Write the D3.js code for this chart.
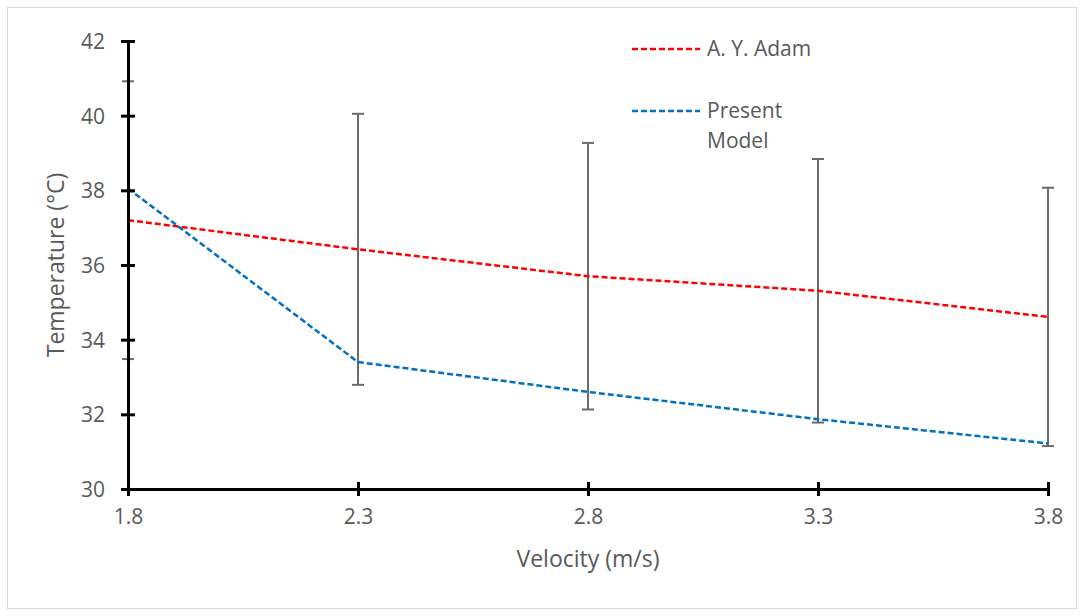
<!DOCTYPE html>
<html>
<head>
<meta charset="utf-8">
<script src="https://cdn.jsdelivr.net/npm/d3@7"></script>
<style>
  body { margin: 0; background: #fff; }
  text { font-family: "Open Sans", sans-serif; fill: #595959; }
</style>
</head>
<body>
<div class="graph"></div>
<script>
// values
const velocity = [1.8, 2.3, 2.8, 3.3, 3.8];
const adam = [37.2, 36.42, 35.7, 35.31, 34.61];
const present = [38.05, 33.4, 32.6, 31.87, 31.22];
const adamErr = [3.72, 3.63, 3.57, 3.53, 3.46];
const yTicks = [30, 32, 34, 36, 38, 40, 42];

const W = 1084, H = 616;
const svg = d3.select('.graph').append('svg').attr('width', W).attr('height', H);

// chart frame
svg.append('rect').attr('x', 7.5).attr('y', 7.5).attr('width', 1069).attr('height', 601)
  .attr('fill', 'none').attr('stroke', '#d9d9d9').attr('stroke-width', 1);

const x = d3.scaleLinear().domain([1.8, 3.8]).range([128, 1048]);
const y = d3.scaleLinear().domain([30, 42]).range([489, 41]);

// error bars (behind the axes)
const eb = svg.append('g').attr('stroke', '#6b6b6b').attr('stroke-width', 2);
velocity.forEach((v, i) => {
  const cx = x(v), hi = y(adam[i] + adamErr[i]), lo = y(adam[i] - adamErr[i]);
  eb.append('line').attr('x1', cx).attr('x2', cx).attr('y1', hi).attr('y2', lo);
  eb.append('line').attr('x1', cx - 6).attr('x2', cx + 6).attr('y1', hi).attr('y2', hi);
  eb.append('line').attr('x1', cx - 6).attr('x2', cx + 6).attr('y1', lo).attr('y2', lo);
});

const line = d3.line().x((d, i) => x(velocity[i])).y(d => y(d));
svg.append('path').datum(adam).attr('d', line).attr('fill', 'none')
  .attr('stroke', '#ff0000').attr('stroke-width', 2.5).attr('stroke-dasharray', '6,3');
svg.append('path').datum(present).attr('d', line).attr('fill', 'none')
  .attr('stroke', '#0070c0').attr('stroke-width', 2.5).attr('stroke-dasharray', '6,3');

// axes with crossing ticks
const yAxis = svg.append('g').attr('transform', 'translate(128,0)')
  .call(d3.axisLeft(y).tickValues(yTicks).tickSize(7).tickPadding(16).tickSizeOuter(0));
yAxis.selectAll('.tick line').attr('x2', -7).attr('x1', 7);
const xAxis = svg.append('g').attr('transform', 'translate(0,489)')
  .call(d3.axisBottom(x).tickValues(velocity).tickSize(7).tickPadding(13).tickFormat(d3.format('.1f')).tickSizeOuter(0));
xAxis.selectAll('.tick line').attr('y1', -7).attr('y2', 7);
[yAxis, xAxis].forEach(a => {
  a.select('.domain').attr('stroke', '#000').attr('stroke-width', 3);
  a.selectAll('.tick line').attr('stroke', '#000').attr('stroke-width', 3);
  a.selectAll('.tick text').style('font-size', '21px').attr('fill', '#595959');
});
yAxis.selectAll('.tick text').attr('dy', '0.35em');

// axis titles
svg.append('text').attr('x', 588).attr('y', 567).attr('text-anchor', 'middle')
  .style('font-size', '23px').text('Velocity (m/s)');
svg.append('text').attr('transform', 'translate(64,265) rotate(-90)').attr('text-anchor', 'middle')
  .style('font-size', '23px').text('Temperature (°C)');

// legend
const lg = svg.append('g');
lg.append('line').attr('x1', 632).attr('x2', 700).attr('y1', 49).attr('y2', 49)
  .attr('stroke', '#ff0000').attr('stroke-width', 2.5).attr('stroke-dasharray', '6,3');
lg.append('text').attr('x', 707).attr('y', 56).style('font-size', '21px').text('A. Y. Adam');
lg.append('line').attr('x1', 632).attr('x2', 700).attr('y1', 111).attr('y2', 111)
  .attr('stroke', '#0070c0').attr('stroke-width', 2.5).attr('stroke-dasharray', '6,3');
lg.append('text').attr('x', 707).attr('y', 118).style('font-size', '21px').text('Present');
lg.append('text').attr('x', 707).attr('y', 148).style('font-size', '21px').text('Model');
</script>
</body>
</html>
